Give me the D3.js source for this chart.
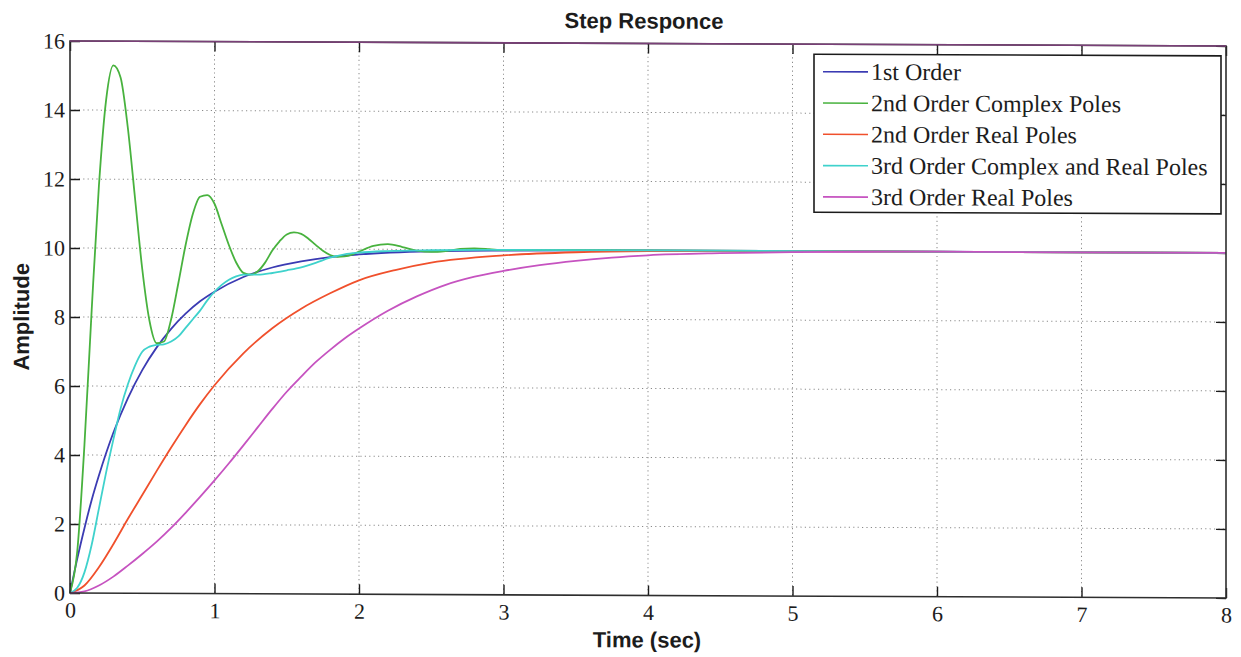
<!DOCTYPE html>
<html>
<head>
<meta charset="utf-8">
<script src="https://cdn.jsdelivr.net/npm/d3@7"></script>
<style>
  body { margin: 0; background: #fff; }
  svg { display: block; }
</style>
</head>
<body>
<div class="graph"></div>
<script>
// ---- data ----
var xTicks = [0, 1, 2, 3, 4, 5, 6, 7, 8];
var yTicks = [0, 2, 4, 6, 8, 10, 12, 14, 16];

var seriesNames = ["1st Order", "2nd Order Complex Poles", "2nd Order Real Poles",
                   "3rd Order Complex and Real Poles", "3rd Order Real Poles"];
var seriesColors = ["#3b3bb3", "#48b23e", "#f0502c", "#3fd2cc", "#c653c0"];

// 1st order
var tFirst = [0, 0.05, 0.1, 0.15, 0.2, 0.3, 0.4, 0.5, 0.6, 0.7, 0.8, 0.9, 1.0, 1.2, 1.4, 1.6, 1.8, 2.0, 2.5, 3.0, 4.0, 8.0];
var vFirst = [0, 0.99, 1.88, 2.7, 3.41, 4.65, 5.65, 6.47, 7.13, 7.67, 8.11, 8.47, 8.75, 9.18, 9.46, 9.64, 9.77, 9.85, 9.95, 9.98, 10, 10];

// 2nd order complex poles
var tSecC = [0, 0.05, 0.1, 0.15, 0.2, 0.25, 0.3, 0.35, 0.4, 0.45, 0.5, 0.55, 0.6, 0.65, 0.7, 0.75, 0.8, 0.85, 0.9, 0.95,
             1.0, 1.05, 1.1, 1.15, 1.2, 1.25, 1.3, 1.35, 1.4, 1.45, 1.5, 1.55, 1.6, 1.65, 1.7, 1.75, 1.8, 1.85, 1.9, 1.95,
             2.0, 2.1, 2.2, 2.3, 2.4, 2.5, 2.6, 2.7, 2.8, 2.9, 3.0, 3.5, 8.0];
var vSecC = [0, 1.2, 4.3, 8.2, 11.8, 14.3, 15.3, 14.95, 13.5, 11.45, 9.4, 7.9, 7.25, 7.3, 7.95, 9.0, 10.1, 11.0, 11.5, 11.55,
             11.3, 10.7, 10.1, 9.6, 9.3, 9.25, 9.35, 9.6, 9.95, 10.22, 10.42, 10.48, 10.44, 10.3, 10.12, 9.95, 9.83, 9.78, 9.79, 9.84,
             9.93, 10.1, 10.15, 10.07, 9.97, 9.93, 9.96, 10.02, 10.04, 10.02, 9.99, 10, 10];

// 2nd order real poles
var tSecR = [0, 0.1, 0.2, 0.3, 0.4, 0.5, 0.6, 0.7, 0.8, 0.9, 1.0, 1.2, 1.4, 1.6, 1.8, 2.0, 2.25, 2.5, 3.0, 3.5, 4.0, 4.5, 5.0, 8.0];
var vSecR = [0, 0.22, 0.75, 1.42, 2.15, 2.85, 3.55, 4.23, 4.88, 5.49, 6.04, 6.97, 7.7, 8.27, 8.72, 9.1, 9.4, 9.62, 9.84, 9.94, 9.98, 9.99, 10, 10];

// 3rd order complex and real poles
var tThirdC = [0, 0.05, 0.1, 0.15, 0.2, 0.25, 0.3, 0.35, 0.4, 0.45, 0.5, 0.55, 0.6, 0.65, 0.7, 0.75, 0.8, 0.85, 0.9, 0.95,
               1.0, 1.05, 1.1, 1.15, 1.2, 1.3, 1.4, 1.5, 1.6, 1.7, 1.8, 1.9, 2.0, 2.2, 2.5, 3.0, 8.0];
var vThirdC = [0, 0.15, 0.6, 1.4, 2.45, 3.5, 4.45, 5.35, 6.05, 6.6, 7.0, 7.15, 7.2, 7.22, 7.3, 7.45, 7.7, 7.95, 8.2, 8.5,
               8.75, 8.95, 9.1, 9.2, 9.25, 9.25, 9.3, 9.38, 9.47, 9.6, 9.75, 9.85, 9.9, 9.95, 9.98, 10, 10];

// 3rd order real poles
var tThirdR = [0, 0.1, 0.2, 0.3, 0.4, 0.5, 0.6, 0.7, 0.8, 0.9, 1.0, 1.1, 1.2, 1.3, 1.4, 1.5, 1.6, 1.7, 1.8, 1.9, 2.0, 2.2, 2.4, 2.6,
               2.8, 3.0, 3.25, 3.5, 3.75, 4.0, 4.5, 5.0, 5.5, 6.0, 8.0];
var vThirdR = [0, 0.05, 0.22, 0.48, 0.8, 1.14, 1.5, 1.9, 2.34, 2.8, 3.28, 3.78, 4.3, 4.83, 5.36, 5.86, 6.3, 6.72, 7.08, 7.41, 7.7, 8.22, 8.64, 8.98,
               9.22, 9.39, 9.56, 9.69, 9.79, 9.86, 9.93, 9.97, 9.99, 10, 10];

var allT = [tFirst, tSecC, tSecR, tThirdC, tThirdR];
var allV = [vFirst, vSecC, vSecR, vThirdC, vThirdR];

// ---- layout ----
var W = 1241, H = 657;
var plot = {left: 70, top: 41, right: 1226, bottom: 593};
var ink = "#1c1c1c";

var svg = d3.select(".graph").append("svg")
    .attr("width", W)
    .attr("height", H);

// the scan is a little skewed (right side sits lower)
var g = svg.append("g")
    .attr("transform", "translate(0,-0.3) skewY(0.245)");

var xScale = d3.scaleLinear().domain([0, 8]).range([plot.left, plot.right]);
var yScale = d3.scaleLinear().domain([0, 16]).range([plot.bottom, plot.top]);

//grid lines
var grid = g.append("g").attr("class", "grid")
    .attr("stroke", "#8a8a8a")
    .attr("stroke-width", 1)
    .attr("stroke-dasharray", "1.2,3.2");

grid.selectAll(".gx")
    .data(xTicks.slice(1, -1))
    .enter().append("line")
    .attr("x1", function(d) { return xScale(d); })
    .attr("x2", function(d) { return xScale(d); })
    .attr("y1", plot.top)
    .attr("y2", plot.bottom);

grid.selectAll(".gy")
    .data(yTicks.slice(1, -1))
    .enter().append("line")
    .attr("y1", function(d) { return yScale(d); })
    .attr("y2", function(d) { return yScale(d); })
    .attr("x1", plot.left)
    .attr("x2", plot.right);

//axes, matlab style ticks pointing inward
var xAxis = d3.axisBottom(xScale).tickValues(xTicks).tickFormat(d3.format("d"))
    .tickSizeInner(-10).tickSizeOuter(0).tickPadding(9);
var xAxisTop = d3.axisTop(xScale).tickValues(xTicks).tickFormat("")
    .tickSizeInner(-10).tickSizeOuter(0);
var yAxis = d3.axisLeft(yScale).tickValues(yTicks).tickFormat(d3.format("d"))
    .tickSizeInner(-10).tickSizeOuter(0).tickPadding(5);
var yAxisRight = d3.axisRight(yScale).tickValues(yTicks).tickFormat("")
    .tickSizeInner(-10).tickSizeOuter(0);

function styleAxis(sel) {
    sel.select(".domain").remove();
    sel.selectAll(".tick line").attr("stroke", ink).attr("stroke-width", 1.4);
    sel.selectAll(".tick text")
        .attr("fill", ink)
        .style("font-family", "'Liberation Serif', 'Times New Roman', serif")
        .style("font-size", "22px");
}

g.append("g").attr("transform", "translate(0," + plot.bottom + ")").call(xAxis).call(styleAxis);
g.append("g").attr("transform", "translate(0," + plot.top + ")").call(xAxisTop).call(styleAxis);
g.append("g").attr("transform", "translate(" + plot.left + ",0)").call(yAxis).call(styleAxis);
g.append("g").attr("transform", "translate(" + plot.right + ",0)").call(yAxisRight).call(styleAxis);

//curves
var line = d3.line()
    .x(function(d) { return xScale(d[0]); })
    .y(function(d) { return yScale(d[1]); })
    .curve(d3.curveMonotoneX);

var curves = g.append("g").attr("class", "curves");
allT.forEach(function(ts, i) {
    var pts = ts.map(function(t, j) { return [t, allV[i][j]]; });
    curves.append("path")
        .datum(pts)
        .attr("fill", "none")
        .attr("stroke", seriesColors[i])
        .attr("stroke-width", 1.8)
        .attr("stroke-linejoin", "round")
        .attr("d", line);
});

//box around the plot
g.append("rect")
    .attr("x", plot.left)
    .attr("y", plot.top)
    .attr("width", plot.right - plot.left)
    .attr("height", plot.bottom - plot.top)
    .attr("fill", "none")
    .attr("stroke", "#2e2e2e")
    .attr("stroke-width", 1.6);
g.append("line")
    .attr("x1", plot.left).attr("x2", plot.right)
    .attr("y1", plot.top).attr("y2", plot.top)
    .attr("stroke", "#7a3f78")
    .attr("stroke-width", 1.6);

//legend
var legend = {left: 814, top: 51, right: 1221, bottom: 209, first: 68.5, step: 31.3};
var lg = g.append("g").attr("class", "legend");
lg.append("rect")
    .attr("x", legend.left)
    .attr("y", legend.top)
    .attr("width", legend.right - legend.left)
    .attr("height", legend.bottom - legend.top)
    .attr("fill", "#fff")
    .attr("stroke", ink)
    .attr("stroke-width", 1.6);

var item = lg.selectAll(".item")
    .data(seriesNames)
    .enter().append("g")
    .attr("transform", function(d, i) { return "translate(0," + (legend.first + i * legend.step) + ")"; });

item.append("line")
    .attr("x1", 823).attr("x2", 868)
    .attr("y1", 0).attr("y2", 0)
    .attr("stroke", function(d, i) { return seriesColors[i]; })
    .attr("stroke-width", 1.6);

item.append("text")
    .attr("x", 871)
    .attr("dy", "0.33em")
    .attr("fill", ink)
    .style("font-family", "'Liberation Serif', 'Times New Roman', serif")
    .style("font-size", "24px")
    .text(function(d) { return d; });

//titles
var sans = "'Liberation Sans', Arial, sans-serif";
g.append("text")
    .attr("x", 644).attr("y", 26)
    .attr("text-anchor", "middle")
    .attr("fill", ink)
    .style("font-family", sans).style("font-size", "22px").style("font-weight", "bold")
    .text("Step Responce");

g.append("text")
    .attr("x", 647).attr("y", 645)
    .attr("text-anchor", "middle")
    .attr("fill", ink)
    .style("font-family", sans).style("font-size", "22px").style("font-weight", "bold")
    .text("Time (sec)");

g.append("text")
    .attr("transform", "translate(29,317) rotate(-90)")
    .attr("text-anchor", "middle")
    .attr("fill", ink)
    .style("font-family", sans).style("font-size", "22px").style("font-weight", "bold")
    .text("Amplitude");
</script>
</body>
</html>
